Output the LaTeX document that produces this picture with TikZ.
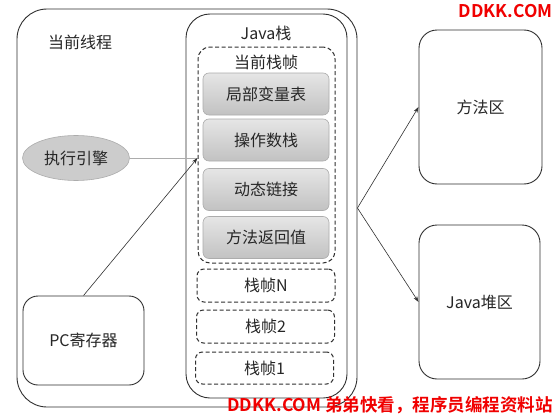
\documentclass[tikz,border=0pt]{standalone}
\usepackage{fontspec}
\setmainfont{Noto Sans CJK SC}
\newfontfamily\wmfont{Noto Sans CJK SC Bold}
\usetikzlibrary{shapes.geometric,arrows.meta}
\definecolor{ln}{HTML}{303030}
\definecolor{tx}{HTML}{262626}
\definecolor{wm}{HTML}{F00000}
\tikzset{
  box/.style={draw=ln, line width=0.9pt, rectangle, inner sep=0pt},
  dbox/.style={draw=ln, line width=1pt, dashed, dash pattern=on 4pt off 2.5pt, rectangle, rounded corners=7pt, inner sep=0pt, font=\fontsize{16}{19}\selectfont, text=tx},
  gbox/.style={draw=gray!65, line width=0.6pt, rectangle, rounded corners=6pt, top color=gray!20, bottom color=gray!48, inner sep=0pt, minimum width=126pt, minimum height=42pt, font=\fontsize{16}{19}\selectfont, text=tx},
  lbl/.style={font=\fontsize{16}{19}\selectfont, text=tx, inner sep=0pt},
  conn/.style={draw=ln, line width=0.6pt},
  arr/.style={conn, -{Stealth[length=6pt,width=4pt]}},
  wmark/.style={font=\wmfont\fontsize{17.5}{20}\selectfont, text=wm, inner sep=0pt}
}
\begin{document}
\begin{tikzpicture}[x=1pt,y=-1pt]
\useasboundingbox[fill=white] (0,0) rectangle (557,415);
% outer thread box
\node[box, rounded corners=30pt, minimum width=340pt, minimum height=398pt] (thread) at (187,208) {};
\node[lbl] (threadlbl) at (80,42) {当前线程};
% java stack
\node[box, rounded corners=24pt, minimum width=161pt, minimum height=384pt] (jstack) at (266.5,206) {};
\node[lbl] (jstacklbl) at (266,33) {Java栈};
% current frame
\node[dbox, rounded corners=12pt, minimum width=137pt, minimum height=216pt] (cur) at (266.5,155) {};
\node[lbl] (curlbl) at (266,62) {当前栈帧};
\node[gbox] (g1) at (266,94) {局部变量表};
\node[gbox] (g2) at (266,140) {操作数栈};
\node[gbox] (g3) at (266,189.5) {动态链接};
\node[gbox] (g4) at (266,237.5) {方法返回值};
% other frames
\node[dbox, minimum width=138pt, minimum height=33pt] (fN) at (266,285.5) {栈帧N};
\node[dbox, minimum width=138pt, minimum height=33pt] (f2) at (265.5,326.5) {栈帧2};
\node[dbox, minimum width=138pt, minimum height=32pt] (f1) at (264.5,368) {栈帧1};
% engine
\node[ellipse, draw=gray!65, line width=0.6pt, fill=gray!40, minimum width=107pt, minimum height=45pt, inner sep=0pt, lbl] (eng) at (76,158) {执行引擎};
% pc
\node[box, rounded corners=15pt, minimum width=121pt, minimum height=89pt, lbl] (pc) at (83.5,340.5) {PC寄存器};
% right boxes
\node[box, rounded corners=18pt, minimum width=123pt, minimum height=154pt, lbl] (meth) at (480.5,107) {方法区};
\node[box, rounded corners=18pt, minimum width=121pt, minimum height=154pt, lbl] (heap) at (479.5,302) {Java堆区};
% connectors
\coordinate (hit) at (cur.west |- eng.east);
\draw[conn, draw=gray!65] (eng.east) -- (hit);
\draw[arr] (pc.north) -- (hit);
\coordinate (tr) at (thread.east);
\draw[arr] (tr) -- (meth.west);
\draw[arr] (tr) -- (heap.west);
% watermarks
\node[wmark, anchor=north east] (wm1) at (553,4) {DDKK.COM};
\node[wmark, anchor=south east] (wm2) at (553,414) {DDKK.COM 弟弟快看，程序员编程资料站};
\end{tikzpicture}
\end{document}
